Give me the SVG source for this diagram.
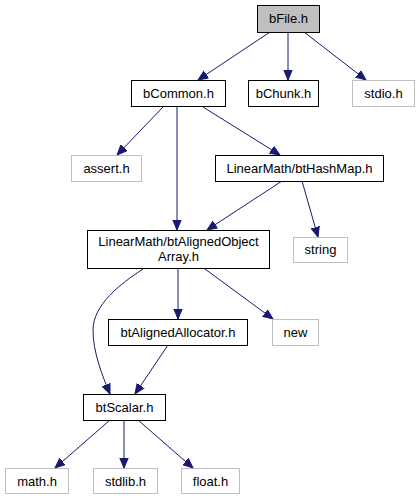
<svg xmlns="http://www.w3.org/2000/svg" width="419" height="500" viewBox="0 0 419 500">
<style>
.n rect{fill:#fff;stroke:#000;stroke-width:1}
.x rect{fill:#fff;stroke:#bfbfbf;stroke-width:1}
#bFile rect{fill:#bfbfbf}
text{font-family:"Liberation Sans",Arial,sans-serif;font-size:13px;fill:#000;text-anchor:middle}
.e path{fill:none;stroke:#191970;stroke-width:1;marker-end:url(#a)}
</style>
<defs>
<marker id="a" markerWidth="11" markerHeight="11" refX="10" refY="5" orient="auto" markerUnits="userSpaceOnUse">
<path d="M0,0.8 L10,5 L0,9.2 Z" fill="#191970" stroke="#191970" stroke-width="1"/>
</marker>
</defs>
<rect width="419" height="500" fill="#fff"/>
<g class="e" id="edges">
<path d="M270,32 L198,80"/>
<path d="M288,32 L288,80"/>
<path d="M304,32 L366,80"/>
<path d="M163,107 L117,155"/>
<path d="M177,107 L177,230"/>
<path d="M203,107 L280,155"/>
<path d="M282,181 L207,230"/>
<path d="M302,181 L318,237"/>
<path d="M143,269 C120,284 93,305 93,330 C93,352 102,375 110,394"/>
<path d="M178,269 L178,319"/>
<path d="M205,269 L273,319"/>
<path d="M168,345 L135,394"/>
<path d="M110,420 L55,468"/>
<path d="M124,420 L124,468"/>
<path d="M138,420 L193,468"/>
</g>
<g class="n" id="bFile"><rect x="257.5" y="5.5" width="62" height="27"/><text x="288.5" y="23">bFile.h</text></g>
<g class="n" id="bCommon"><rect x="131.5" y="80.5" width="94" height="26"/><text x="178.5" y="97.5">bCommon.h</text></g>
<g class="n" id="bChunk"><rect x="248.5" y="80.5" width="70" height="26"/><text x="283.5" y="97.5">bChunk.h</text></g>
<g class="x" id="stdio"><rect x="352.5" y="80.5" width="62" height="26"/><text x="383.5" y="97.5">stdio.h</text></g>
<g class="x" id="assert"><rect x="71.5" y="155.5" width="70" height="26"/><text x="106.5" y="172.5">assert.h</text></g>
<g class="n" id="btHashMap"><rect x="215.5" y="155.5" width="168" height="26"/><text x="299.5" y="172.5">LinearMath/btHashMap.h</text></g>
<g class="n" id="btAlignedObjectArray"><rect x="87.5" y="230.5" width="182" height="38"/><text x="178.5" y="246">LinearMath/btAlignedObject</text><text x="178.5" y="261">Array.h</text></g>
<g class="x" id="string"><rect x="293.5" y="237.5" width="54" height="25"/><text x="320.5" y="254">string</text></g>
<g class="n" id="btAlignedAllocator"><rect x="108.5" y="319.5" width="139" height="26"/><text x="178" y="336.5">btAlignedAllocator.h</text></g>
<g class="x" id="new"><rect x="272.5" y="319.5" width="46" height="26"/><text x="295.5" y="336.5">new</text></g>
<g class="n" id="btScalar"><rect x="83.5" y="394.5" width="82" height="26"/><text x="124.5" y="411.5">btScalar.h</text></g>
<g class="x" id="math"><rect x="5.5" y="468.5" width="63" height="25"/><text x="37" y="485.5">math.h</text></g>
<g class="x" id="stdlib"><rect x="93.5" y="468.5" width="64" height="25"/><text x="125.5" y="485.5">stdlib.h</text></g>
<g class="x" id="float"><rect x="181.5" y="468.5" width="58" height="25"/><text x="210.5" y="485.5">float.h</text></g>
</svg>
